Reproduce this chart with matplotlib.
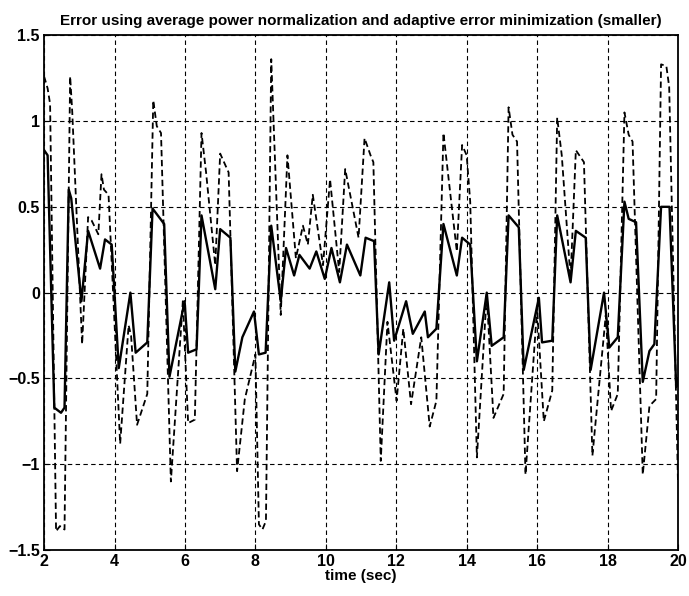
import matplotlib
matplotlib.use('Agg')
import matplotlib.pyplot as plt
import numpy as np

matplotlib.rcParams['font.family'] = ['Liberation Sans', 'DejaVu Sans']

# dashed curve (larger error)
t_big = [2.0, 2.1, 2.17, 2.34, 2.45, 2.58, 2.74, 2.8, 3.08, 3.25, 3.35, 3.54, 3.63, 3.7, 3.83,
         4.16, 4.4, 4.47, 4.64, 4.93, 5.1, 5.2, 5.32, 5.6, 5.94, 6.09, 6.28, 6.47, 6.6, 6.86,
         7.0, 7.24, 7.48, 7.7, 8.0, 8.1, 8.2, 8.3, 8.45, 8.72, 8.91, 9.15, 9.35, 9.49, 9.63,
         9.92, 10.12, 10.38, 10.55, 10.93, 11.1, 11.27, 11.35, 11.56, 11.75, 12.01, 12.2,
         12.42, 12.71, 12.95, 13.14, 13.34, 13.72, 13.87, 14.0, 14.1, 14.29, 14.57, 14.76,
         15.05, 15.19, 15.3, 15.43, 15.67, 16.0, 16.19, 16.43, 16.57, 16.7, 16.95, 17.1, 17.33,
         17.57, 17.95, 18.1, 18.29, 18.48, 18.6, 18.71, 19.0, 19.19, 19.38, 19.52, 19.67,
         19.75, 20.0]
e_big = [1.26, 1.19, 1.1, -1.39, -1.36, -1.38, 1.26, 1.05, -0.30, 0.44, 0.42, 0.34, 0.69, 0.6, 0.57,
         -0.88, -0.19, -0.25, -0.77, -0.59, 1.12, 0.97, 0.93, -1.1, -0.05, -0.76, -0.74, 0.93, 0.7, 0.16,
         0.81, 0.70, -1.04, -0.62, -0.36, -1.35, -1.38, -1.33, 1.36, -0.13, 0.80, 0.20, 0.39, 0.28, 0.57,
         0.16, 0.66, 0.12, 0.72, 0.32, 0.90, 0.80, 0.76, -0.98, -0.17, -0.63, -0.21,
         -0.65, -0.26, -0.78, -0.63, 0.93, 0.24, 0.86, 0.80, 0.53, -0.96, -0.01, -0.73,
         -0.59, 1.08, 0.92, 0.88, -1.06, -0.09, -0.75, -0.57, 1.02, 0.8, 0.08, 0.83, 0.76,
         -0.95, -0.13, -0.69, -0.59, 1.05, 0.92, 0.88, -1.06, -0.66, -0.62, 1.33, 1.32,
         1.2, -1.10]

# solid curve (smaller error)
t_small = [2.0, 2.1, 2.29, 2.48, 2.58, 2.7, 2.77, 3.06, 3.25, 3.59, 3.73, 3.92, 4.12, 4.45, 4.6,
           4.93, 5.08, 5.41, 5.56, 5.99, 6.09, 6.33, 6.47, 6.86, 7.0, 7.29, 7.43, 7.63, 7.96,
           8.1, 8.29, 8.45, 8.72, 8.87, 9.1, 9.25, 9.54, 9.73, 9.97, 10.16, 10.4, 10.6, 10.98,
           11.13, 11.37, 11.5, 11.8, 11.94, 12.28, 12.47, 12.81, 12.9, 13.14, 13.34, 13.72,
           13.87, 14.1, 14.29, 14.57, 14.71, 15.05, 15.19, 15.48, 15.62, 16.05, 16.14, 16.43,
           16.57, 16.95, 17.1, 17.38, 17.52, 17.9, 18.05, 18.29, 18.48, 18.6, 18.81, 19.0,
           19.19, 19.33, 19.52, 19.76, 19.95, 20.0]
e_small = [0.83, 0.80, -0.67, -0.70, -0.67, 0.60, 0.55, -0.05, 0.36, 0.14, 0.31, 0.28, -0.44, 0.0, -0.35,
           -0.29, 0.49, 0.40, -0.49, -0.05, -0.35, -0.33, 0.45, 0.02, 0.37, 0.32, -0.46, -0.26, -0.11,
           -0.36, -0.35, 0.39, -0.05, 0.26, 0.10, 0.22, 0.14, 0.24, 0.08, 0.26, 0.06, 0.28, 0.10,
           0.32, 0.30, -0.36, 0.06, -0.28, -0.05, -0.24, -0.11, -0.26, -0.21, 0.40, 0.10,
           0.32, 0.28, -0.40, 0.0, -0.31, -0.26, 0.45, 0.38, -0.45, -0.03, -0.29, -0.28,
           0.45, 0.06, 0.36, 0.32, -0.45, 0.0, -0.32, -0.26, 0.53, 0.43, 0.41, -0.52,
           -0.34, -0.30, 0.50, 0.50, -0.55, -0.50]

fig = plt.figure(figsize=(6.89, 5.96), dpi=100)
ax = fig.add_axes([0.064, 0.077, 0.92, 0.864])

ax.plot(t_small, e_small, 'k-', linewidth=1.7)
ax.plot(t_big, e_big, 'k--', linewidth=1.3, dashes=(3.5, 2))

ax.set_xlim(2, 20)
ax.set_ylim(-1.5, 1.5)
ax.set_xticks(np.arange(2, 21, 2))
ax.set_yticks([-1.5, -1, -0.5, 0, 0.5, 1, 1.5])
ax.set_yticklabels(['\u22121.5', '\u22121', '\u22120.5', '0', '0.5', '1', '1.5'])
ax.grid(True, color='k', linestyle=(0, (4, 3)), linewidth=0.8)
ax.tick_params(direction='in', length=4, labelsize=11.5, pad=3)
for lab in ax.get_xticklabels() + ax.get_yticklabels():
    lab.set_fontweight('bold')
for s in ax.spines.values():
    s.set_linewidth(1.3)

ax.set_title('Error using average power normalization and adaptive error minimization (smaller)',
             fontsize=11, fontweight='bold', pad=7)
ax.set_xlabel('time (sec)', fontsize=11, fontweight='bold', labelpad=0)

plt.savefig('out.png', dpi=100)
